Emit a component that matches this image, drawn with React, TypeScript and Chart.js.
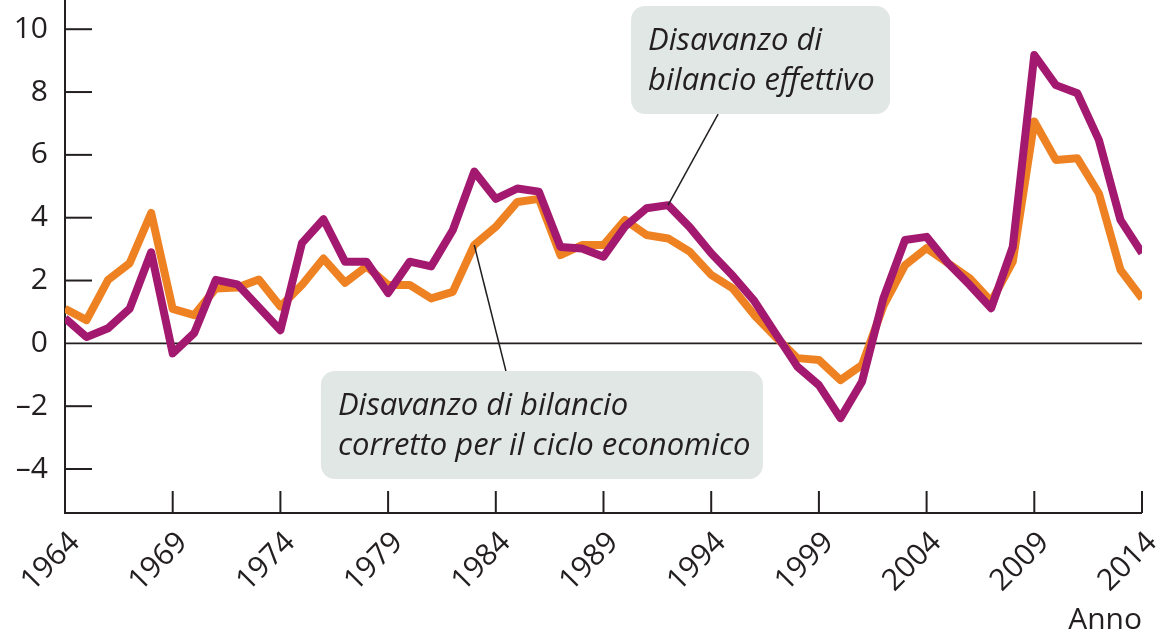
import React, { useEffect, useRef } from "react";
import { Chart, registerables } from "chart.js";

Chart.register(...registerables);

// ---------- data ----------
const years = [
  1964, 1965, 1966, 1967, 1968, 1969, 1970, 1971, 1972, 1973,
  1974, 1975, 1976, 1977, 1978, 1979, 1980, 1981, 1982, 1983,
  1984, 1985, 1986, 1987, 1988, 1989, 1990, 1991, 1992, 1993,
  1994, 1995, 1996, 1997, 1998, 1999, 2000, 2001, 2002, 2003,
  2004, 2005, 2006, 2007, 2008, 2009, 2010, 2011, 2012, 2013,
  2014,
];

// Disavanzo di bilancio effettivo (% PIL)
const actualDeficit = [
  0.8, 0.2, 0.48, 1.1, 2.9, -0.32, 0.33, 2.02, 1.88, 1.15,
  0.42, 3.19, 3.95, 2.6, 2.6, 1.6, 2.6, 2.45, 3.6, 5.47,
  4.6, 4.93, 4.83, 3.07, 3.02, 2.76, 3.72, 4.3, 4.4, 3.7,
  2.87, 2.15, 1.35, 0.3, -0.74, -1.33, -2.38, -1.22, 1.45, 3.29,
  3.39, 2.55, 1.86, 1.12, 3.07, 9.18, 8.22, 7.96, 6.47, 3.93,
  2.87,
];

// Disavanzo di bilancio corretto per il ciclo economico (% PIL)
const adjustedDeficit = [
  1.1, 0.74, 2.02, 2.55, 4.15, 1.1, 0.9, 1.75, 1.78, 2.03,
  1.17, 1.86, 2.7, 1.93, 2.45, 1.86, 1.86, 1.43, 1.64, 3.13,
  3.71, 4.5, 4.6, 2.81, 3.13, 3.13, 3.93, 3.45, 3.34, 2.92,
  2.18, 1.75, 0.9, 0.2, -0.47, -0.53, -1.17, -0.69, 1.2, 2.49,
  3.03, 2.55, 2.07, 1.33, 2.6, 7.06, 5.84, 5.89, 4.77, 2.34,
  1.43,
];

const xTickYears = [1964, 1969, 1974, 1979, 1984, 1989, 1994, 1999, 2004, 2009, 2014];
const yTickValues = [-4, -2, 0, 2, 4, 6, 8, 10];

const actualLabel = ["Disavanzo di", "bilancio effettivo"];
const adjustedLabel = ["Disavanzo di bilancio", "corretto per il ciclo economico"];
const xTitle = "Anno";

// ---------- styles ----------
const PURPLE = "#A3196F";
const ORANGE = "#EE8223";
const INK = "#231F20";
const BOX_FILL = "#E0E7E4";
const FONT = '"Open Sans", "DejaVu Sans", sans-serif';

// callout geometry (data coordinates: year, value)
const callouts = [
  {
    lines: actualLabel,
    box: { x0: 1990.28, x1: 2002.3, yTop: 10.74, yBottom: 7.3 },
    leaderFrom: { x: 1994.32, y: 7.3 },
    leaderTo: { series: 0, year: 1992 },
  },
  {
    lines: adjustedLabel,
    box: { x0: 1975.88, x1: 1996.4, yTop: -0.88, yBottom: -4.32 },
    leaderFrom: { x: 1984.47, y: -0.88 },
    leaderTo: { series: 1, year: 1983 },
  },
];

const zeroPadding = (scale: any) => {
  scale.paddingTop = 0;
  scale.paddingBottom = 0;
  scale.paddingLeft = 0;
  scale.paddingRight = 0;
};

const overlayPlugin = {
  id: "overlay",
  beforeDatasetsDraw(chart: any) {
    const { ctx, chartArea: a, scales } = chart;
    const x = scales.x;
    const y = scales.y;
    ctx.save();
    ctx.strokeStyle = INK;
    ctx.lineCap = "butt";
    // zero line
    const y0 = y.getPixelForValue(0);
    ctx.lineWidth = 1.6;
    ctx.beginPath();
    ctx.moveTo(a.left, y0);
    ctx.lineTo(a.right, y0);
    ctx.stroke();
    // axes
    ctx.lineWidth = 2;
    ctx.beginPath();
    ctx.moveTo(a.left, a.top);
    ctx.lineTo(a.left, a.bottom);
    ctx.lineTo(a.right, a.bottom);
    ctx.stroke();
    // y ticks (inward)
    yTickValues.forEach((v) => {
      if (v === 0) return;
      const py = y.getPixelForValue(v);
      ctx.beginPath();
      ctx.moveTo(a.left, py);
      ctx.lineTo(a.left + 27, py);
      ctx.stroke();
    });
    // x ticks (inward)
    xTickYears.forEach((yr) => {
      const px = x.getPixelForValue(yr);
      ctx.beginPath();
      ctx.moveTo(px, a.bottom);
      ctx.lineTo(px, a.bottom - 22);
      ctx.stroke();
    });
    ctx.restore();
  },
  afterDatasetsDraw(chart: any) {
    const { ctx, scales } = chart;
    const x = scales.x;
    const y = scales.y;
    const seriesList = [actualDeficit, adjustedDeficit];
    ctx.save();
    callouts.forEach((c) => {
      const left = x.getPixelForValue(c.box.x0);
      const right = x.getPixelForValue(c.box.x1);
      const top = y.getPixelForValue(c.box.yTop);
      const bottom = y.getPixelForValue(c.box.yBottom);
      // leader line
      const idx = years.indexOf(c.leaderTo.year);
      const tx = x.getPixelForValue(c.leaderTo.year);
      const ty = y.getPixelForValue(seriesList[c.leaderTo.series][idx]);
      ctx.strokeStyle = INK;
      ctx.lineWidth = 1.5;
      ctx.beginPath();
      ctx.moveTo(x.getPixelForValue(c.leaderFrom.x), y.getPixelForValue(c.leaderFrom.y));
      ctx.lineTo(tx, ty);
      ctx.stroke();
      // box
      ctx.fillStyle = BOX_FILL;
      ctx.beginPath();
      (ctx as any).roundRect(left, top, right - left, bottom - top, 14);
      ctx.fill();
      // text
      ctx.fillStyle = INK;
      ctx.font = `italic 31px ${FONT}`;
      ctx.textAlign = "left";
      ctx.textBaseline = "alphabetic";
      c.lines.forEach((t, i) => {
        ctx.fillText(t, left + 17, top + 44 + i * 40);
      });
    });
    ctx.restore();
  },
};

export default function App() {
  const canvasRef = useRef<HTMLCanvasElement | null>(null);

  useEffect(() => {
    const canvas = canvasRef.current;
    if (!canvas) return;
    const chart = new Chart(canvas, {
      type: "line",
      data: {
        datasets: [
          {
            label: actualLabel.join(" "),
            data: years.map((yr, i) => ({ x: yr, y: actualDeficit[i] })),
            borderColor: PURPLE,
            backgroundColor: PURPLE,
            borderWidth: 8,
            borderJoinStyle: "round",
            pointRadius: 0,
            tension: 0,
          },
          {
            label: adjustedLabel.join(" "),
            data: years.map((yr, i) => ({ x: yr, y: adjustedDeficit[i] })),
            borderColor: ORANGE,
            backgroundColor: ORANGE,
            borderWidth: 8,
            borderJoinStyle: "round",
            pointRadius: 0,
            tension: 0,
          },
        ],
      },
      options: {
        animation: false,
        responsive: false,
        devicePixelRatio: 1,
        layout: { padding: { top: 0, right: 24, bottom: 0, left: 0 }, autoPadding: false },
        plugins: {
          legend: { display: false },
          tooltip: { enabled: false },
        },
        scales: {
          x: {
            type: "linear",
            min: 1964,
            max: 2014,
            afterBuildTicks: (scale: any) => {
              scale.ticks = xTickYears.map((v) => ({ value: v }));
            },
            afterFit: (scale: any) => {
              scale.height = 120;
              zeroPadding(scale);
            },
            grid: { display: false, drawTicks: false },
            border: { display: false },
            ticks: {
              autoSkip: false,
              minRotation: 45,
              maxRotation: 45,
              padding: 12,
              labelOffset: 10,
              color: INK,
              font: { family: FONT, size: 30 },
              callback: (v: any) => String(v),
            },
            title: {
              display: true,
              text: xTitle,
              align: "end",
              color: INK,
              font: { family: FONT, size: 30 },
              padding: { top: 0, bottom: -5 },
            },
          },
          y: {
            type: "linear",
            min: -5.4,
            max: 10.93,
            afterBuildTicks: (scale: any) => {
              scale.ticks = yTickValues.map((v) => ({ value: v }));
            },
            afterFit: (scale: any) => {
              scale.width = 65;
              zeroPadding(scale);
            },
            grid: { display: false, drawTicks: false },
            border: { display: false },
            ticks: {
              padding: 17,
              color: INK,
              font: { family: FONT, size: 30 },
              callback: (v: any) => (Number(v) < 0 ? "\u2013" + Math.abs(Number(v)) : String(v)),
            },
          },
        },
      },
      plugins: [overlayPlugin],
    });
    return () => chart.destroy();
  }, []);

  return (
    <div style={{ position: "fixed", left: 0, top: 0, width: 1166, height: 633, background: "#fff" }}>
      <canvas ref={canvasRef} width={1166} height={633} />
    </div>
  );
}
